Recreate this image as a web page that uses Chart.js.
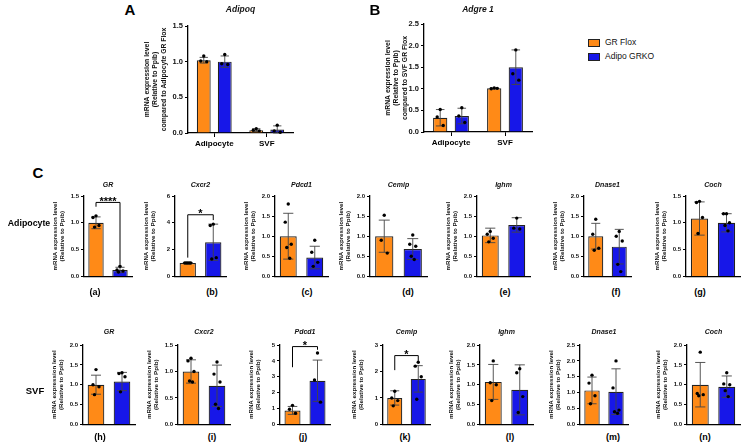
<!DOCTYPE html>
<html>
<head>
<meta charset="utf-8">
<script src="https://cdn.jsdelivr.net/npm/chart.js"></script>
<style>
body { margin: 0; background: #fff; width: 745px; height: 443px; position: relative; overflow: hidden; font-family: "Liberation Sans", Arial, sans-serif; }
canvas { position: absolute; }
.lbl { position: absolute; font-weight: bold; color: #000; white-space: nowrap; transform: translate(-50%, -50%); }
.leg { position: absolute; font-size: 8.5px; color: #111; white-space: nowrap; }
.sw { position: absolute; width: 10px; height: 6px; border: 1.3px solid #222; }
</style>
</head>
<body>
<script>
// data
const groups = ['GR Flox', 'Adipo GRKO'];
const cellTypes = ['Adipocyte', 'SVF'];

// A - Adipoq
const adipoqFloxMean = [1.02, 0.04];
const adipoqFloxSd = [0.04, 0.02];
const adipoqFloxPts = [[1.08, 1.01, 1.0], [0.06, 0.04, 0.03]];
const adipoqKoMean = [1.0, 0.05];
const adipoqKoSd = [0.08, 0.05];
const adipoqKoPts = [[1.1, 0.97, 0.96], [0.11, 0.03, 0.01]];
const adipoqTicks = ['0.0', '0.5', '1.0', '1.5'];

// B - Adgre 1
const adgreFloxMean = [0.33, 1.01];
const adgreFloxSd = [0.19, 0.01];
const adgreFloxPts = [[0.52, 0.35, 0.15], [1.02, 1.0, 1.01]];
const adgreKoMean = [0.37, 1.5];
const adgreKoSd = [0.18, 0.4];
const adgreKoPts = [[0.56, 0.37, 0.22], [1.9, 1.35, 1.2]];
const adgreTicks = ['0.0', '0.5', '1.0', '1.5', '2.0', '2.5'];

// C - adipocyte row: [GR Flox, Adipo GRKO]
const adipGRMean = [1.0, 0.12];
const adipGRSd = [0.11, 0.05];
const adipGRPts = [[1.13, 1.1, 0.95, 0.92], [0.19, 0.12, 0.1, 0.08]];
const adipGRSig = [1.38, 1.3, 0.22];
const adipCxcr2Mean = [1.0, 2.55];
const adipCxcr2Sd = [0.02, 1.35];
const adipCxcr2Pts = [[1.0, 1.0, 1.0, 1.0, 1.0], [3.9, 3.8, 1.4, 1.3]];
const adipCxcr2Sig = [4.6, 1.4, 4.2];
const adipPdcd1Mean = [1.0, 0.47];
const adipPdcd1Sd = [0.57, 0.28];
const adipPdcd1Pts = [[1.8, 1.35, 0.8, 0.72, 0.45], [0.9, 0.6, 0.35, 0.25]];
const adipCemipMean = [1.0, 0.68];
const adipCemipSd = [0.4, 0.26];
const adipCemipPts = [[1.52, 0.9, 0.58], [1.03, 0.8, 0.75, 0.5, 0.42]];
const adipIghmMean = [1.02, 1.28];
const adipIghmSd = [0.18, 0.18];
const adipIghmPts = [[1.12, 1.05, 0.95, 0.86], [1.45, 1.2, 1.18]];
const adipDnase1Mean = [1.0, 0.74];
const adipDnase1Sd = [0.32, 0.43];
const adipDnase1Pts = [[1.42, 1.05, 0.7, 0.65], [1.12, 1.0, 0.88, 0.3, 0.12]];
const adipCochMean = [1.08, 1.0];
const adipCochSd = [0.31, 0.17];
const adipCochPts = [[1.4, 1.38, 1.1, 0.8], [1.17, 1.17, 1.0, 0.95, 0.85]];

// C - SVF row
const svfGRMean = [1.0, 1.08];
const svfGRSd = [0.24, 0.23];
const svfGRPts = [[1.38, 1.0, 0.95, 0.75], [1.3, 1.28, 1.2, 0.82]];
const svfCxcr2Mean = [1.0, 0.73];
const svfCxcr2Sd = [0.22, 0.39];
const svfCxcr2Pts = [[1.25, 1.2, 1.0, 0.82, 0.8], [1.18, 0.95, 0.8, 0.38, 0.3]];
const svfPdcd1Mean = [0.88, 2.75];
const svfPdcd1Sd = [0.25, 1.3];
const svfPdcd1Pts = [[1.2, 0.95, 0.7], [4.5, 2.8, 1.4]];
const svfPdcd1Sig = [4.9, 3.6, 4.7];
const svfCemipMean = [1.0, 1.72];
const svfCemipSd = [0.27, 0.5];
const svfCemipPts = [[1.25, 1.0, 0.9, 0.7], [2.35, 2.2, 1.8, 0.95]];
const svfCemipSig = [2.6, 2.05, 2.4];
const svfIghmMean = [1.07, 0.87];
const svfIghmSd = [0.44, 0.63];
const svfIghmPts = [[1.6, 1.05, 1.0, 0.6], [1.4, 1.3, 0.7, 0.3]];
const svfDnase1Mean = [1.07, 1.03];
const svfDnase1Sd = [0.42, 0.72];
const svfDnase1Pts = [[1.55, 1.3, 0.9, 0.65], [2.0, 1.15, 0.45, 0.4, 0.35]];
const svfCochMean = [1.0, 0.95];
const svfCochSd = [0.56, 0.27];
const svfCochPts = [[1.82, 0.78, 0.75, 0.72], [1.3, 1.02, 1.0, 0.85, 0.7]];

const ticks15 = ['0.0', '0.5', '1.0', '1.5'];
const ticks20 = ['0.0', '0.5', '1.0', '1.5', '2.0'];
const ticks25 = ['0.0', '0.5', '1.0', '1.5', '2.0', '2.5'];
const ticks6 = ['0', '2', '4', '6'];
const ticks5 = ['0', '1', '2', '3', '4', '5'];
const ticks3 = ['0', '1', '2', '3'];

const ORANGE = '#FF8A17';
const BLUE = '#1717E8';
const FONT = '"Liberation Sans", Arial, sans-serif';
const spread = [0, -3, 3, -1.5, 1.5];
const yTitleC = ['mRNA expression level', '(Relative to Ppib)'];

// error bars, dots and significance brackets
function extras(sig, starText) {
    return {
        id: 'extras',
        afterDatasetsDraw(chart) {
            const ctx = chart.ctx;
            const y = chart.scales.y;
            chart.data.datasets.forEach((ds, di) => {
                const meta = chart.getDatasetMeta(di);
                meta.data.forEach((bar, i) => {
                    const m = ds.data[i];
                    const sd = ds.sd[i];
                    const top = y.getPixelForValue(m + sd);
                    const bot = y.getPixelForValue(Math.max(0, m - sd));
                    const cap = bar.width * 0.3;
                    ctx.save();
                    ctx.strokeStyle = '#444';
                    ctx.lineWidth = 0.9;
                    ctx.beginPath();
                    ctx.moveTo(bar.x, top); ctx.lineTo(bar.x, bot);
                    ctx.moveTo(bar.x - cap, top); ctx.lineTo(bar.x + cap, top);
                    ctx.moveTo(bar.x - cap, bot); ctx.lineTo(bar.x + cap, bot);
                    ctx.stroke();
                    ctx.fillStyle = '#000';
                    ds.pts[i].forEach((v, k) => {
                        ctx.beginPath();
                        ctx.arc(bar.x + spread[k % spread.length], y.getPixelForValue(v), 1.7, 0, Math.PI * 2);
                        ctx.fill();
                    });
                    ctx.restore();
                });
            });
            if (sig) {
                const bars = chart.getDatasetMeta(0).data;
                const xl = bars[0].x, xr = bars[1].x;
                const yb = y.getPixelForValue(sig[0]);
                ctx.save();
                ctx.strokeStyle = '#000';
                ctx.lineWidth = 1;
                ctx.beginPath();
                ctx.moveTo(xl, y.getPixelForValue(sig[1]));
                ctx.lineTo(xl, yb);
                ctx.lineTo(xr, yb);
                ctx.lineTo(xr, y.getPixelForValue(sig[2]));
                ctx.stroke();
                ctx.fillStyle = '#000';
                ctx.font = 'bold 11px ' + FONT;
                ctx.textAlign = 'center';
                ctx.textBaseline = 'alphabetic';
                ctx.fillText(starText, (xl + xr) / 2, yb + 2.5);
                ctx.restore();
            }
        }
    };
}

function makeChart(p) {
    const [x0, x1, yTop, yBot] = p.box;
    const top = p.topPad, xh = p.xh, rp = 4;
    const canvas = document.createElement('canvas');
    canvas.width = x1 - x0 + p.yw + rp;
    canvas.height = yBot - yTop + top + xh;
    canvas.style.left = (x0 - p.yw) + 'px';
    canvas.style.top = (yTop - top) + 'px';
    document.body.appendChild(canvas);
    const tPad = p.titleY - p.titleSize / 2 - (yTop - top);
    const tickArr = p.ticks;
    new Chart(canvas, {
        type: 'bar',
        data: { labels: p.labels, datasets: p.datasets },
        options: {
            responsive: false,
            animation: false,
            events: [],
            layout: { padding: { left: 0, right: rp, top: 0, bottom: 0 } },
            plugins: {
                legend: { display: false },
                tooltip: { enabled: false },
                title: {
                    display: true, text: p.title, color: '#111', fullSize: false,
                    font: { family: FONT, size: p.titleSize, weight: 'bold', style: 'italic', lineHeight: 1 },
                    padding: { top: tPad, bottom: top - p.titleSize - tPad }
                }
            },
            scales: {
                x: {
                    afterFit: s => { s.height = xh; },
                    grid: { display: p.xTicks, drawOnChartArea: false, offset: false, color: '#000', tickLength: 4 },
                    border: { display: true, color: '#000', width: 1.3 },
                    ticks: { display: p.xTicks, color: '#000', padding: 2, font: { family: FONT, size: 8, weight: 'bold' } }
                },
                y: {
                    min: 0,
                    max: parseFloat(tickArr[tickArr.length - 1]),
                    afterFit: s => { s.width = p.yw; },
                    afterBuildTicks: s => { s.ticks = tickArr.map(t => ({ value: parseFloat(t) })); },
                    grid: { display: true, drawOnChartArea: false, color: '#000', tickLength: 3 },
                    border: { display: true, color: '#000', width: 1.3 },
                    ticks: {
                        color: '#111', padding: 2,
                        font: { family: FONT, size: p.tickSize, weight: 'bold' },
                        callback: (v, i) => tickArr[i]
                    },
                    title: {
                        display: true, text: p.yTitle, color: '#111',
                        font: { family: FONT, size: p.yTitleSize, weight: 'bold', lineHeight: p.yTitleLH / p.yTitleSize },
                        padding: { top: p.yw - p.yTitleOff - p.yTitleLH / 2, bottom: 0 }
                    }
                }
            }
        },
        plugins: [extras(p.sig, p.star)]
    });
}

function groupPanel(title, box, titleY, ticks, yTitle, fm, fs, fp, km, ks, kp) {
    return {
        title, box, titleY, ticks, yTitle,
        labels: cellTypes, topPad: 22, xh: 22, yw: 50, titleSize: 8.5, tickSize: 7.5,
        yTitleSize: 6.8, yTitleLH: 8.6, yTitleOff: 40, xTicks: true,
        datasets: [
            { label: groups[0], data: fm, sd: fs, pts: fp, backgroundColor: ORANGE, borderColor: '#222', borderWidth: 1.2, categoryPercentage: 0.8, barPercentage: 0.66 },
            { label: groups[1], data: km, sd: ks, pts: kp, backgroundColor: BLUE, borderColor: '#222', borderWidth: 1.2, categoryPercentage: 0.8, barPercentage: 0.66 }
        ]
    };
}

function genePanel(title, box, titleY, ticks, mean, sd, pts, sig, star) {
    return {
        title, box, titleY, ticks, sig, star,
        yTitle: yTitleC, labels: groups, topPad: 18, xh: 3, yw: 38, titleSize: 7, tickSize: 6,
        yTitleSize: 6.2, yTitleLH: 7.6, yTitleOff: 29, xTicks: false,
        datasets: [{
            data: mean, sd: sd, pts: pts,
            backgroundColor: [ORANGE, BLUE], borderColor: '#222', borderWidth: 1.2,
            categoryPercentage: 1, barPercentage: 0.64
        }]
    };
}

const pA = groupPanel('Adipoq', [188, 293, 26, 133], 10, adipoqTicks,
    ['mRNA expression level', '(Relative to Ppib)', 'compared to Adipocyte GR Flox'],
    adipoqFloxMean, adipoqFloxSd, adipoqFloxPts, adipoqKoMean, adipoqKoSd, adipoqKoPts);
pA.yTitleOff = 41;
const pB = groupPanel('Adgre 1', [424, 532, 24, 132], 10, adgreTicks,
    ['mRNA expression level', '(Relative to Ppib)', 'compared to SVF GR Flox'],
    adgreFloxMean, adgreFloxSd, adgreFloxPts, adgreKoMean, adgreKoSd, adgreKoPts);
pB.yTitleOff = 36;

const r1 = [196, 279], r2 = [345, 427];
const panels = [
    pA, pB,
    genePanel('GR', [84, 132, ...r1], 185, ticks15, adipGRMean, adipGRSd, adipGRPts, adipGRSig, '****'),
    genePanel('Cxcr2', [175, 226, ...r1], 185, ticks6, adipCxcr2Mean, adipCxcr2Sd, adipCxcr2Pts, adipCxcr2Sig, '*'),
    genePanel('Pdcd1', [275, 328, ...r1], 185, ticks20, adipPdcd1Mean, adipPdcd1Sd, adipPdcd1Pts),
    genePanel('Cemip', [370, 427, ...r1], 185, ticks20, adipCemipMean, adipCemipSd, adipCemipPts),
    genePanel('Ighm', [477, 530, ...r1], 185, ticks20, adipIghmMean, adipIghmSd, adipIghmPts),
    genePanel('Dnase1', [584, 631, ...r1], 185, ticks20, adipDnase1Mean, adipDnase1Sd, adipDnase1Pts),
    genePanel('Coch', [686, 740, ...r1], 185, ticks15, adipCochMean, adipCochSd, adipCochPts),
    genePanel('GR', [83, 135, ...r2], 332, ticks20, svfGRMean, svfGRSd, svfGRPts),
    genePanel('Cxcr2', [178, 230, ...r2], 332, ticks15, svfCxcr2Mean, svfCxcr2Sd, svfCxcr2Pts),
    genePanel('Pdcd1', [280, 330, ...r2], 332, ticks5, svfPdcd1Mean, svfPdcd1Sd, svfPdcd1Pts, svfPdcd1Sig, '*'),
    genePanel('Cemip', [383, 430, ...r2], 332, ticks3, svfCemipMean, svfCemipSd, svfCemipPts, svfCemipSig, '*'),
    genePanel('Ighm', [480, 533, ...r2], 332, ticks20, svfIghmMean, svfIghmSd, svfIghmPts),
    genePanel('Dnase1', [580, 628, ...r2], 332, ticks25, svfDnase1Mean, svfDnase1Sd, svfDnase1Pts),
    genePanel('Coch', [687, 740, ...r2], 332, ticks20, svfCochMean, svfCochSd, svfCochPts)
];
panels.forEach(makeChart);

// figure labels
const labels = [
    ['A', 130, 9, 15], ['B', 375, 9, 15], ['C', 38, 172, 15],
    ['Adipocyte', 29, 223, 8.8], ['SVF', 35, 390, 9.5],
    ['(a)', 95, 292, 9], ['(b)', 212, 292, 9], ['(c)', 307, 292, 9], ['(d)', 408, 292, 9],
    ['(e)', 505, 292, 9], ['(f)', 616, 292, 9], ['(g)', 700, 292, 9],
    ['(h)', 100, 437, 9], ['(i)', 212, 437, 9], ['(j)', 303, 437, 9], ['(k)', 405, 437, 9],
    ['(l)', 510, 437, 9], ['(m)', 613, 437, 9], ['(n)', 705, 437, 9]
];
labels.forEach(([t, x, y, s]) => {
    const d = document.createElement('div');
    d.className = 'lbl';
    d.textContent = t;
    d.style.left = x + 'px';
    d.style.top = y + 'px';
    d.style.fontSize = s + 'px';
    document.body.appendChild(d);
});

// legend
[[groups[0], ORANGE, 43], [groups[1], BLUE, 57]].forEach(([t, c, y]) => {
    const sw = document.createElement('div');
    sw.className = 'sw';
    sw.style.left = '588px';
    sw.style.top = (y - 4) + 'px';
    sw.style.background = c;
    document.body.appendChild(sw);
    const d = document.createElement('div');
    d.className = 'leg';
    d.textContent = t;
    d.style.left = '605px';
    d.style.top = (y - 6) + 'px';
    document.body.appendChild(d);
});
</script>
</body>
</html>
